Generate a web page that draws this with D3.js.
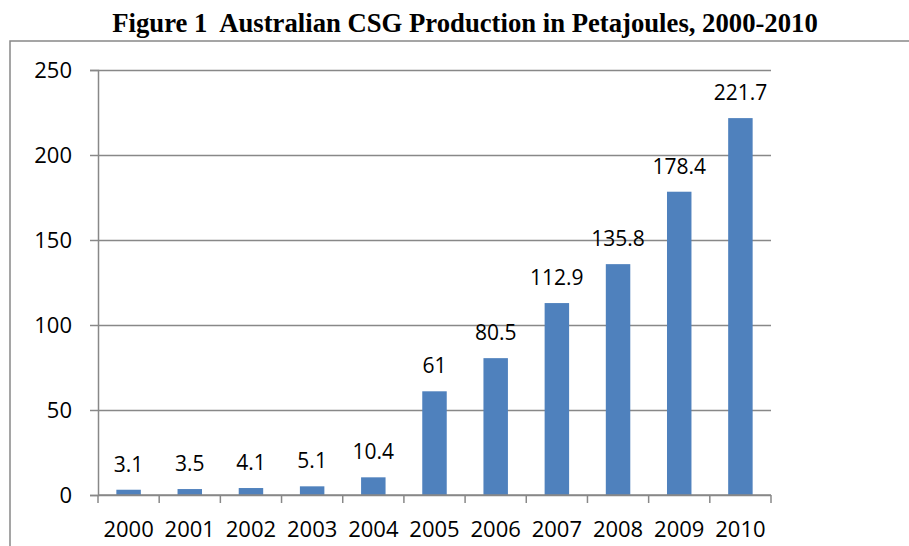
<!DOCTYPE html>
<html>
<head>
<meta charset="utf-8">
<script src="https://cdn.jsdelivr.net/npm/d3@7"></script>
<style>
  body { margin: 0; background: #fff; }
  svg { display: block; }
</style>
</head>
<body>
<svg id="chart"></svg>
<script>
// data
let years = ["2000","2001","2002","2003","2004","2005","2006","2007","2008","2009","2010"];
let production = [3.1, 3.5, 4.1, 5.1, 10.4, 61, 80.5, 112.9, 135.8, 178.4, 221.7];
let yTicks = [0, 50, 100, 150, 200, 250];

let width = 909, height = 546;
let margin = ({top: 70, right: 138, bottom: 51, left: 98});
let grey = "#888888";

const svg = d3.select('#chart').attr('width', width).attr('height', height);

// title
svg.append('text')
  .attr('x', 465)
  .attr('y', 32)
  .attr('text-anchor', 'middle')
  .attr('font-family', '"Liberation Serif", "Times New Roman", serif')
  .attr('font-weight', 'bold')
  .attr('font-size', 26.7)
  .style('white-space', 'pre')
  .text('Figure 1  Australian CSG Production in Petajoules, 2000-2010');

// outer frame (runs off the right and bottom of the picture)
svg.append('rect')
  .attr('x', 10).attr('y', 41)
  .attr('width', 920).attr('height', 520)
  .attr('fill', 'none')
  .attr('stroke', grey)
  .attr('stroke-width', 1.5);

let x = d3.scaleBand()
  .domain(years)
  .range([margin.left, width - margin.right])
  .paddingInner(0.6)
  .paddingOuter(0.3);

let y = d3.scaleLinear()
  .domain([0, 250])
  .range([height - margin.bottom, margin.top]);

// gridlines + y axis
let yAxis = g => g
  .attr("transform", `translate(${margin.left},0)`)
  .call(d3.axisLeft(y).tickValues(yTicks).tickSize(8).tickPadding(18))
  .call(g => g.select(".domain").attr("stroke", grey).attr("stroke-width", 1.5))
  .call(g => g.selectAll(".tick line").attr("stroke", grey).attr("stroke-width", 1.5))
  .call(g => g.selectAll(".tick").append("line")
      .attr("x2", width - margin.right - margin.left)
      .attr("stroke", grey).attr("stroke-width", 1.5))
  .call(g => g.selectAll(".tick text")
      .attr("font-family", '"Open Sans", sans-serif')
      .attr("font-size", 22)
      .attr("fill", "#000"));

svg.append("g").call(yAxis);

// bars
svg.append("g")
  .selectAll("rect")
  .data(years.map((d, i) => ({year: d, value: production[i]})))
  .join("rect")
  .attr("x", d => x(d.year))
  .attr("y", d => y(d.value))
  .attr("width", x.bandwidth())
  .attr("height", d => y(0) - y(d.value))
  .attr("fill", "#4F81BD");

// x axis with ticks at band boundaries
let bounds = d3.range(years.length + 1).map(i => margin.left + i * (width - margin.right - margin.left) / years.length);
let xAxisG = svg.append("g");
xAxisG.append("line")
  .attr("x1", margin.left).attr("x2", width - margin.right)
  .attr("y1", y(0)).attr("y2", y(0))
  .attr("stroke", grey).attr("stroke-width", 1.5);
xAxisG.selectAll(".xt")
  .data(bounds)
  .join("line")
  .attr("class", "xt")
  .attr("x1", d => d).attr("x2", d => d)
  .attr("y1", y(0)).attr("y2", y(0) + 8)
  .attr("stroke", grey).attr("stroke-width", 1.5);
xAxisG.selectAll("text")
  .data(years)
  .join("text")
  .attr("x", d => x(d) + x.bandwidth() / 2)
  .attr("y", 537)
  .attr("text-anchor", "middle")
  .attr("font-family", '"Open Sans", sans-serif')
  .attr("font-size", 22)
  .text(d => d);

// value labels
svg.append("g")
  .selectAll("text")
  .data(years.map((d, i) => ({year: d, value: production[i]})))
  .join("text")
  .attr("x", d => x(d.year) + x.bandwidth() / 2)
  .attr("y", d => y(d.value) - 18)
  .attr("text-anchor", "middle")
  .attr("font-family", '"Open Sans", sans-serif')
  .attr("font-size", 21)
  .text(d => d.value);
</script>
</body>
</html>
